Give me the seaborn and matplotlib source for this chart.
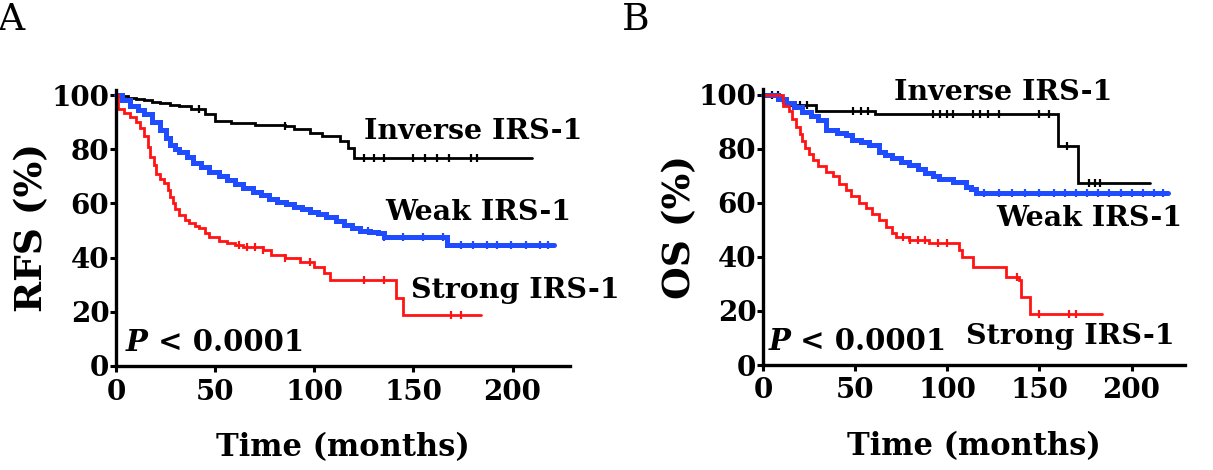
import numpy as np
import pandas as pd
import matplotlib
matplotlib.use("Agg")
import matplotlib.pyplot as plt
import seaborn as sns

# ---------------- data ----------------
# Panel A: relapse-free survival (step function: value holds from t[i] to t[i+1])
a_inv_t = [0, 3, 6, 10, 14, 18, 22, 27, 32, 38, 45, 50, 58, 70, 85, 90, 98, 104, 113, 117, 120, 210]
a_inv_s = [100, 99.5, 99, 98.5, 98, 97.5, 97, 96.5, 96, 95, 93, 90.5, 89.5, 89, 88.5, 87.5, 86, 84.8, 83, 80.5, 76.8, 76.8]
a_inv_c = [42, 85, 125, 130, 135, 150, 156, 162, 168, 179, 182]

a_weak_t = [0, 3, 7, 11, 14, 18, 22, 25, 27, 30, 32, 36, 39, 43, 47, 52, 56, 60, 64, 69, 73, 77, 81, 86, 90, 94, 98, 102, 106, 111, 115, 119, 123, 128, 132, 135, 167, 221]
a_weak_s = [100, 98, 96, 94.5, 93, 90, 87, 84, 81.5, 80, 79, 77, 75, 73.3, 71.7, 70, 68.6, 67, 65.6, 64.3, 63, 61.8, 60.6, 59.6, 58.8, 57.9, 57, 56, 55, 53.5, 52, 51, 50, 49.5, 49, 47.7, 44.6, 44.6]
a_weak_c = [127, 135, 145, 155, 165, 174, 180, 187, 192, 199, 207, 214, 218]

a_str_t = [0, 1, 4, 7, 10, 12, 14, 16, 17, 19, 20, 22, 24, 26, 27, 29, 30, 32, 35, 37, 40, 42, 45, 47, 52, 56, 60, 64, 74, 78, 85, 93, 100, 105, 108, 141, 145, 184]
a_str_s = [100, 95, 93.5, 92, 90, 88, 85, 81, 77, 74, 71, 69, 67.4, 65, 62.5, 60, 58, 55.7, 54, 52.6, 51.5, 50.8, 49, 47.7, 46.3, 45.3, 44.6, 44, 42.8, 41, 40, 38.5, 36.7, 34.2, 31.7, 25, 18.8, 18.8]
a_str_c = [62, 66, 70, 74, 85, 98, 125, 135, 169, 174]

# Panel B: overall survival
b_inv_t = [0, 9, 12.5, 29, 61, 160, 171, 210]
b_inv_s = [100, 98, 96.3, 94, 92.8, 80.9, 67.3, 67.3]
b_inv_c = [5, 8, 11, 20, 24, 49, 53, 57, 92, 96, 100, 103, 114, 118, 122, 128, 150, 155, 165, 177, 180, 183]

b_weak_t = [0, 8, 12.5, 17, 21, 26, 30, 34, 40, 45, 48.5, 53, 57.6, 63, 66, 70, 75, 79, 84, 88, 92, 95.6, 103, 110, 113, 115.6, 220]
b_weak_s = [100, 98.5, 97, 95.5, 93.8, 92.3, 90.7, 87, 86, 85, 83.3, 82.4, 81.5, 79, 77.8, 76.5, 75.3, 74, 72.5, 71, 70, 69, 67.9, 66, 65, 63.6, 63.6]
b_weak_c = [120, 128, 135, 142, 150, 158, 164, 170, 176, 182, 188, 194, 200, 206, 212, 217]

b_str_t = [0, 11, 14, 16, 18, 20, 21, 23, 25, 27, 30, 34, 38, 41, 45, 48, 52, 56, 59, 63, 67, 70, 72, 79, 90, 106.5, 108, 114, 132, 139, 140, 145, 184]
b_str_s = [100, 96, 94, 91, 88, 85.5, 83, 80.5, 78, 76, 73.5, 71.5, 69.8, 67, 64.8, 62.5, 60, 58, 56, 53.5, 51, 49, 47.5, 46.3, 45, 42.6, 40, 36.4, 32.7, 31.5, 25, 19, 19]
b_str_c = [76, 80, 84, 88, 95, 100, 138, 150, 166, 170]

group_names = ["Inverse IRS-1", "Weak IRS-1", "Strong IRS-1"]
x_ticks = [0, 50, 100, 150, 200]
y_ticks = [0, 20, 40, 60, 80, 100]
x_label = "Time (months)"
y_labels = ["RFS (%)", "OS (%)"]
panel_letters = ["A", "B"]
p_text = "< 0.0001"

# ---------------- style ----------------
sns.set_style("ticks")
plt.rcParams["font.family"] = ["DejaVu Serif"]
plt.rcParams["font.weight"] = "bold"
for key in ("text.color", "axes.labelcolor", "xtick.color", "ytick.color", "axes.edgecolor"):
    plt.rcParams[key] = "black"

colors = {"Inverse IRS-1": "#000000", "Weak IRS-1": "#1f4cff", "Strong IRS-1": "#ff1414"}
widths = {"Inverse IRS-1": 2.0, "Weak IRS-1": 3.6, "Strong IRS-1": 2.0}

fig = plt.figure(figsize=(12.13, 4.70), dpi=100)
ax_a = fig.add_axes([116 / 1213, 1 - 366 / 470, (570 - 116) / 1213, (366 - 89.6) / 470])
ax_b = fig.add_axes([763 / 1213, 1 - 365 / 470, (1185 - 763) / 1213, (365 - 89.5) / 470])

panels = [
    (ax_a, [(a_inv_t, a_inv_s, a_inv_c), (a_weak_t, a_weak_s, a_weak_c), (a_str_t, a_str_s, a_str_c)]),
    (ax_b, [(b_inv_t, b_inv_s, b_inv_c), (b_weak_t, b_weak_s, b_weak_c), (b_str_t, b_str_s, b_str_c)]),
]

def step_value(t, s, c):
    t = np.asarray(t, float)
    s = np.asarray(s, float)
    idx = np.searchsorted(t, np.asarray(c, float), side="right") - 1
    return s[np.clip(idx, 0, len(s) - 1)]

for ax, series in panels:
    for name, (t, s, c) in zip(group_names, series):
        df = pd.DataFrame({"t": t, "s": s})
        sns.lineplot(data=df, x="t", y="s", ax=ax, color=colors[name], lw=widths[name],
                     drawstyle="steps-post", estimator=None, sort=False, clip_on=False,
                     solid_joinstyle="miter")
        cdf = pd.DataFrame({"t": c, "s": step_value(t, s, c)})
        ax.plot(cdf["t"], cdf["s"], ls="none", marker="|", ms=6, mew=1.6,
                color=colors[name], clip_on=False)
    ax.set_xlim(0, 229)
    ax.set_ylim(0, 102)
    ax.set_xticks(x_ticks)
    ax.set_yticks(y_ticks)
    ax.tick_params(axis="both", direction="out", length=4, width=2.2, labelsize=20)
    ax.tick_params(axis="y", pad=0.8)
    ax.tick_params(axis="x", pad=5)
    for lab in ax.get_xticklabels() + ax.get_yticklabels():
        lab.set_fontweight("bold")
    sns.despine(ax=ax)
    for sp in ("left", "bottom"):
        ax.spines[sp].set_linewidth(2.4)
        ax.spines[sp].set_color("black")
    ax.set_xlabel(x_label, fontsize=22, fontweight="bold")
    ax.xaxis.set_label_coords(0.5, -0.295)
    ax.xaxis.label.set_va("center")

# y labels
ax_a.set_ylabel(y_labels[0], fontsize=27, fontweight="bold")
ax_a.yaxis.set_label_coords(-0.185, 0.5)
ax_a.yaxis.label.set_va("center")
ax_b.set_ylabel(y_labels[1], fontsize=27, fontweight="bold")
ax_b.yaxis.set_label_coords(-0.197, 0.5)
ax_b.yaxis.label.set_va("center")

# curve labels
lab_fs = 20.5
ax_a.text(125, 86.5, group_names[0], fontsize=lab_fs, fontweight="bold", va="center", clip_on=False)
ax_a.text(136, 56.6, group_names[1], fontsize=lab_fs, fontweight="bold", va="center", clip_on=False)
ax_a.text(149, 27.8, group_names[2], fontsize=lab_fs, fontweight="bold", va="center", clip_on=False)
ax_b.text(71, 101, group_names[0], fontsize=lab_fs, fontweight="bold", va="center", clip_on=False)
ax_b.text(126.5, 54.3, group_names[1], fontsize=lab_fs, fontweight="bold", va="center", clip_on=False)
ax_b.text(110, 10.7, group_names[2], fontsize=lab_fs, fontweight="bold", va="center", clip_on=False)

# P value
p_fs = 21
for ax, x0 in ((ax_a, 5.0), (ax_b, 3.0)):
    tp = ax.text(x0, 8.8, "P", fontsize=p_fs, fontweight="bold", fontstyle="italic",
                 va="center", clip_on=False)
    ax.annotate(" " + p_text, xy=(1, 0.5), xycoords=tp, va="center", ha="left",
                fontsize=p_fs, fontweight="bold")

# panel letters
fig.text(-0.002, 0.995, panel_letters[0], fontsize=27, fontweight="normal", va="top", ha="left")
fig.text(622 / 1213, 0.995, panel_letters[1], fontsize=27, fontweight="normal", va="top", ha="left")

fig.savefig("out.png", dpi=100)
